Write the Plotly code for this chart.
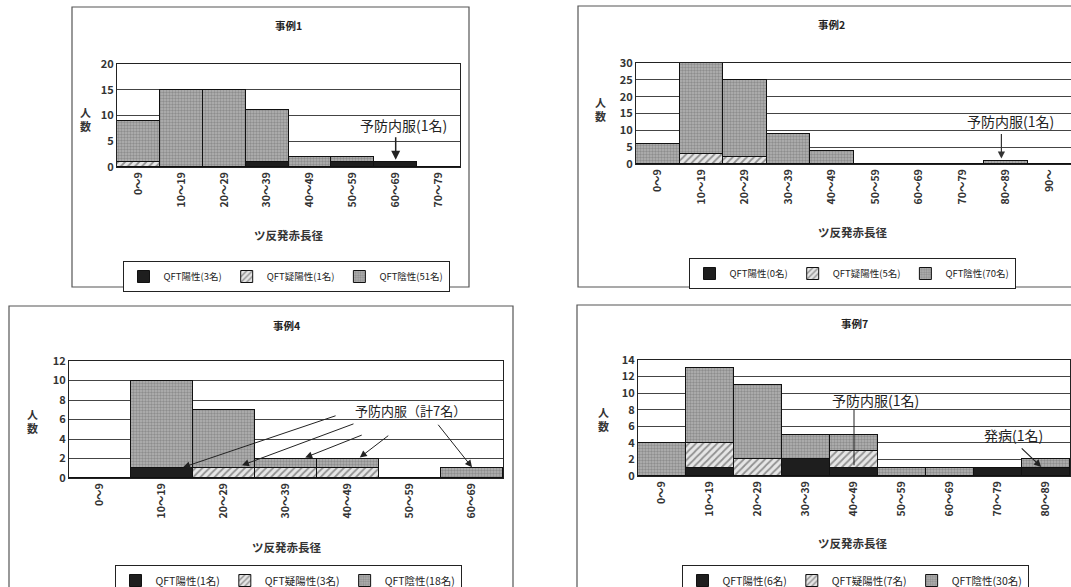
import plotly.graph_objects as go

W, H = 1071, 587

# ---------------- data ----------------
cat1 = ["0～9", "10～19", "20～29", "30～39", "40～49", "50～59", "60～69", "70～79"]
pos1 = [0, 0, 0, 1, 0, 1, 1, 0]
equ1 = [1, 0, 0, 0, 0, 0, 0, 0]
neg1 = [8, 15, 15, 10, 2, 1, 0, 0]

cat2 = ["0～9", "10～19", "20～29", "30～39", "40～49", "50～59", "60～69", "70～79", "80～89", "90～"]
pos2 = [0, 0, 0, 0, 0, 0, 0, 0, 0, 0]
equ2 = [0, 3, 2, 0, 0, 0, 0, 0, 0, 0]
neg2 = [6, 27, 23, 9, 4, 0, 0, 0, 1, 0]

cat4 = ["0～9", "10～19", "20～29", "30～39", "40～49", "50～59", "60～69"]
pos4 = [0, 1, 0, 0, 0, 0, 0]
equ4 = [0, 0, 1, 1, 1, 0, 0]
neg4 = [0, 9, 6, 1, 1, 0, 1]

cat7 = ["0～9", "10～19", "20～29", "30～39", "40～49", "50～59", "60～69", "70～79", "80～89"]
pos7 = [0, 1, 0, 2, 1, 0, 0, 1, 1]
equ7 = [0, 3, 2, 0, 2, 0, 0, 0, 0]
neg7 = [4, 9, 9, 3, 2, 1, 1, 0, 1]

titles = ["事例1", "事例2", "事例4", "事例7"]
legend_names = [
    ["QFT陽性(3名)", "QFT疑陽性(1名)", "QFT陰性(51名)"],
    ["QFT陽性(0名)", "QFT疑陽性(5名)", "QFT陰性(70名)"],
    ["QFT陽性(1名)", "QFT疑陽性(3名)", "QFT陰性(18名)"],
    ["QFT陽性(6名)", "QFT疑陽性(7名)", "QFT陰性(30名)"],
]
yranges = [(20, 5), (30, 5), (12, 2), (14, 2)]

FONT = "Noto Sans CJK JP"

def px_x(x):
    return x / W

def px_y(y):
    return 1 - y / H

# plot areas in pixels: (left, right, top, bottom)
areas = [(117, 460, 64, 167), (636, 1071, 63, 164), (69, 503, 361, 478), (638, 1070, 360, 476)]
panels = [(72, 469, 7, 287), (578, 1075, 6, 287), (9, 513, 306, 592), (577, 1075, 305, 592)]
legend_pos = [(286, 261, 9.5), (852, 258, 9.5), (288, 565, 10.5), (855, 565, 10.5)]
ylabel_pos = [(85, 119), (600, 109), (32, 421), (603, 419)]
xtitle_y = [235, 232, 547, 543]
title_y = [25, 24, 325, 323]

datasets = [(cat1, pos1, equ1, neg1), (cat2, pos2, equ2, neg2),
            (cat4, pos4, equ4, neg4), (cat7, pos7, equ7, neg7)]

fig = go.Figure()
layout = dict()
annotations = []
shapes = []

for i, (cats, p, e, n) in enumerate(datasets):
    k = "" if i == 0 else str(i + 1)
    xa, ya = "x" + k, "y" + k
    lg = "legend" + k
    l, r, t, b = areas[i]
    fig.add_bar(x=cats, y=p, xaxis=xa, yaxis=ya, legend=lg, name=legend_names[i][0],
                marker=dict(color="#1e1e1e", line=dict(color="#111", width=1)))
    fig.add_bar(x=cats, y=e, xaxis=xa, yaxis=ya, legend=lg, name=legend_names[i][1],
                marker=dict(color="#e6e6e6", line=dict(color="#111", width=1),
                            pattern=dict(shape="/", fgcolor="#3a3a3a", bgcolor="#e6e6e6",
                                         size=5, solidity=0.35)))
    fig.add_bar(x=cats, y=n, xaxis=xa, yaxis=ya, legend=lg, name=legend_names[i][2],
                marker=dict(color="#a9a9a9", line=dict(color="#111", width=1),
                            pattern=dict(shape=".", fgcolor="#666", bgcolor="#b4b4b4",
                                         size=3, solidity=0.5)))
    ymax, dt = yranges[i]
    layout["xaxis" + k] = dict(domain=[px_x(l), px_x(r)], anchor=ya, type="category",
                               categoryorder="array", categoryarray=cats, automargin=False,
                               tickangle=-90, showline=True, mirror=True, linecolor="#222",
                               linewidth=1, showgrid=False, ticks="",
                               tickfont=dict(family=FONT, size=10.5, color="#333", weight="bold"))
    layout["yaxis" + k] = dict(domain=[px_y(b), px_y(t)], anchor=xa, range=[0, ymax],
                               dtick=dt, showline=True, mirror=True, linecolor="#222",
                               linewidth=1, showgrid=True, gridcolor="#444", gridwidth=1,
                               zeroline=False, ticks="", automargin=False,
                               tickfont=dict(family=FONT, size=11, color="#333", weight="bold"))
    lx, ly, lfs = legend_pos[i]
    layout[lg] = dict(x=px_x(lx), y=px_y(ly), xanchor="center", yanchor="top",
                      orientation="h", bordercolor="#222", borderwidth=1, bgcolor="white",
                      font=dict(family=FONT, size=lfs, color="#222"),
                      itemwidth=30, tracegroupgap=0, traceorder="normal",
                      itemclick=False, itemdoubleclick=False)
    # title
    annotations.append(dict(text=titles[i], xref="paper", yref="paper",
                            x=px_x((l + r) / 2 if i != 1 else 831), y=px_y(title_y[i]),
                            showarrow=False, xanchor="center", yanchor="middle",
                            font=dict(family=FONT, size=10.5, color="#222", weight="bold")))
    # y label
    yx, yy = ylabel_pos[i]
    annotations.append(dict(text="人<br>数", xref="paper", yref="paper",
                            x=px_x(yx), y=px_y(yy), showarrow=False,
                            xanchor="center", yanchor="middle",
                            font=dict(family=FONT, size=11, color="#333", weight="bold")))
    # x title
    xc = (l + r) / 2 if i in (0, 2) else (852 if i == 1 else 853)
    annotations.append(dict(text="ツ反発赤長径", xref="paper", yref="paper",
                            x=px_x(xc), y=px_y(xtitle_y[i]), showarrow=False,
                            xanchor="center", yanchor="middle",
                            font=dict(family=FONT, size=11.5, color="#333", weight="bold")))
    # panel frame
    pl, pr, pt, pb = panels[i]
    shapes.append(dict(type="rect", xref="paper", yref="paper",
                       x0=px_x(pl), x1=px_x(pr), y0=px_y(pb), y1=px_y(pt),
                       line=dict(color="#555", width=1.2), fillcolor="rgba(0,0,0,0)",
                       layer="below"))

afont = dict(family=FONT, size=14, color="#222")

def note(text, x, y, size=14):
    return dict(text=text, xref="paper", yref="paper", x=px_x(x), y=px_y(y),
                xanchor="center", yanchor="middle", showarrow=False,
                font=dict(family=FONT, size=size, color="#222"))

# 事例1 annotation
annotations.append(note("予防内服(1名)", 403, 125))
annotations.append(dict(text="", xref="x", yref="y", x=6, y=1.4, ax=0, ay=-24,
                        showarrow=True, arrowhead=2, arrowsize=1.2, arrowwidth=1.5,
                        arrowcolor="#222"))
# 事例2 annotation
annotations.append(note("予防内服(1名)", 1010, 121))
annotations.append(dict(text="", xref="x2", yref="y2", x=7.9, y=1.6, ax=0, ay=-26,
                        showarrow=True, arrowhead=2, arrowsize=1.2, arrowwidth=1.2,
                        arrowcolor="#333"))
# 事例4 annotations
annotations.append(note("予防内服（計7名）", 410, 410, 13))
arrows4 = [(1.34, 1.1, 154, -52), (2.29, 1.3, 113, -42), (3.31, 2.1, 58, -23),
           (4.19, 2.1, 30, -23), (6.0, 1.1, -35, -44)]
for ax_, ay_, dx, dy in arrows4:
    annotations.append(dict(text="", xref="x3", yref="y3", x=ax_, y=ay_, ax=dx, ay=dy,
                            showarrow=True, arrowhead=2, arrowsize=1.4, arrowwidth=1,
                            arrowcolor="#222"))
# 事例7 annotations
annotations.append(note("予防内服(1名)", 875, 400))
annotations.append(dict(text="", xref="x4", yref="y4", x=4, y=1.3, ax=0, ay=-57,
                        showarrow=True, arrowhead=0, arrowwidth=1, arrowcolor="#222"))
annotations.append(note("発病(1名)", 1013, 435))
annotations.append(dict(text="", xref="x4", yref="y4", x=7.9, y=1.1, ax=-21, ay=-20,
                        showarrow=True, arrowhead=2, arrowsize=1.2, arrowwidth=1.2,
                        arrowcolor="#222"))

fig.update_layout(
    width=W, height=H, margin=dict(l=0, r=0, t=0, b=0, autoexpand=False),
    paper_bgcolor="white", plot_bgcolor="white",
    barmode="stack", bargap=0,
    font=dict(family=FONT, color="#222"),
    annotations=annotations, shapes=shapes,
    **layout,
)

fig.write_html("out.html")
